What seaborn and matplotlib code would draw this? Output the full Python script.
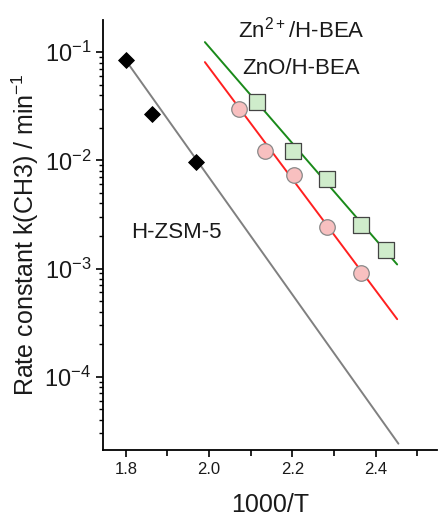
import numpy as np
import pandas as pd
import matplotlib
matplotlib.use("Agg")
import matplotlib.pyplot as plt
import seaborn as sns
from matplotlib.ticker import LogLocator, MultipleLocator, NullFormatter

zsm_x = [1.80, 1.862, 1.968]
zsm_k = [0.084, 0.027, 0.0096]

zn2_x = [2.116, 2.202, 2.284, 2.365, 2.425]
zn2_k = [0.0344, 0.0121, 0.0067, 0.0025, 0.00147]

zno_x = [2.073, 2.135, 2.205, 2.284, 2.365]
zno_k = [0.0297, 0.0121, 0.0073, 0.0024, 0.00090]

# fitted lines, start and end points
zsm_fit_x = [1.80, 2.455]
zsm_fit_k = [0.084, 2.4e-5]
zn2_fit_x = [1.99, 2.452]
zn2_fit_k = [0.124, 1.09e-3]
zno_fit_x = [1.99, 2.452]
zno_fit_k = [0.081, 3.4e-4]

sns.set_style("ticks")
plt.rcParams['font.family'] = ['Liberation Sans', 'DejaVu Sans']
plt.rcParams['mathtext.fontset'] = 'custom'
plt.rcParams['mathtext.rm'] = 'Liberation Sans'
plt.rcParams['text.color'] = '#1a1a1a'
plt.rcParams['axes.labelcolor'] = '#1a1a1a'
plt.rcParams['xtick.color'] = 'black'
plt.rcParams['ytick.color'] = 'black'
plt.rcParams['xtick.labelcolor'] = '#1a1a1a'
plt.rcParams['ytick.labelcolor'] = '#1a1a1a'

fig = plt.figure(figsize=(4.38, 5.16), dpi=100)
ax = fig.add_axes([0.235, 0.128, 0.763, 0.833])

sns.lineplot(x=zsm_fit_x, y=zsm_fit_k, ax=ax, color='#808080', lw=1.4)
sns.lineplot(x=zn2_fit_x, y=zn2_fit_k, ax=ax, color='#1a8a1a', lw=1.4)
sns.lineplot(x=zno_fit_x, y=zno_fit_k, ax=ax, color='#ff2020', lw=1.4)

sns.scatterplot(x=zsm_x, y=zsm_k, ax=ax, marker='D', s=65, color='black',
                edgecolor='black', zorder=3)
sns.scatterplot(x=zn2_x, y=zn2_k, ax=ax, marker='s', s=130, color='#cfeccb',
                edgecolor='#444444', linewidth=0.9, zorder=3)
sns.scatterplot(x=zno_x, y=zno_k, ax=ax, marker='o', s=125, color='#f8c0c0',
                edgecolor='#888888', linewidth=0.9, zorder=3)

ax.set_yscale('log')
ax.set_xlim(1.745, 2.548)
ax.set_ylim(2.1e-5, 0.198)

ax.xaxis.set_major_locator(MultipleLocator(0.2))
ax.xaxis.set_minor_locator(MultipleLocator(0.1))
ax.xaxis.set_major_formatter(plt.FuncFormatter(lambda v, p: f"{v:.1f}"))
ax.yaxis.set_major_locator(LogLocator(base=10, numticks=10))
ax.yaxis.set_minor_locator(LogLocator(base=10, subs=np.arange(2, 10), numticks=10))
ax.yaxis.set_minor_formatter(NullFormatter())

ax.tick_params(axis='x', which='major', labelsize=12, length=5, width=1.2, direction='out')
ax.tick_params(axis='x', which='minor', length=4, width=1.2, direction='out')
ax.tick_params(axis='y', which='major', labelsize=17, length=5, width=1.2, direction='out')
ax.tick_params(axis='y', which='minor', length=3, width=1.0, direction='out')

sns.despine(ax=ax)
for s in ['left', 'bottom']:
    ax.spines[s].set_linewidth(1.3)
    ax.spines[s].set_color('black')

ax.set_xlabel('1000/T', fontsize=18, labelpad=12)
ax.set_ylabel('Rate constant k(CH3) / min$^{-1}$', fontsize=18, labelpad=2)

ax.text(2.222, 0.163, 'Zn$^{2+}$/H-BEA', fontsize=16, ha='center', va='center')
ax.text(2.222, 0.071, 'ZnO/H-BEA', fontsize=16, ha='center', va='center')
ax.text(1.922, 0.00215, 'H-ZSM-5', fontsize=16, ha='center', va='center')

fig.savefig('out.png', dpi=100)
